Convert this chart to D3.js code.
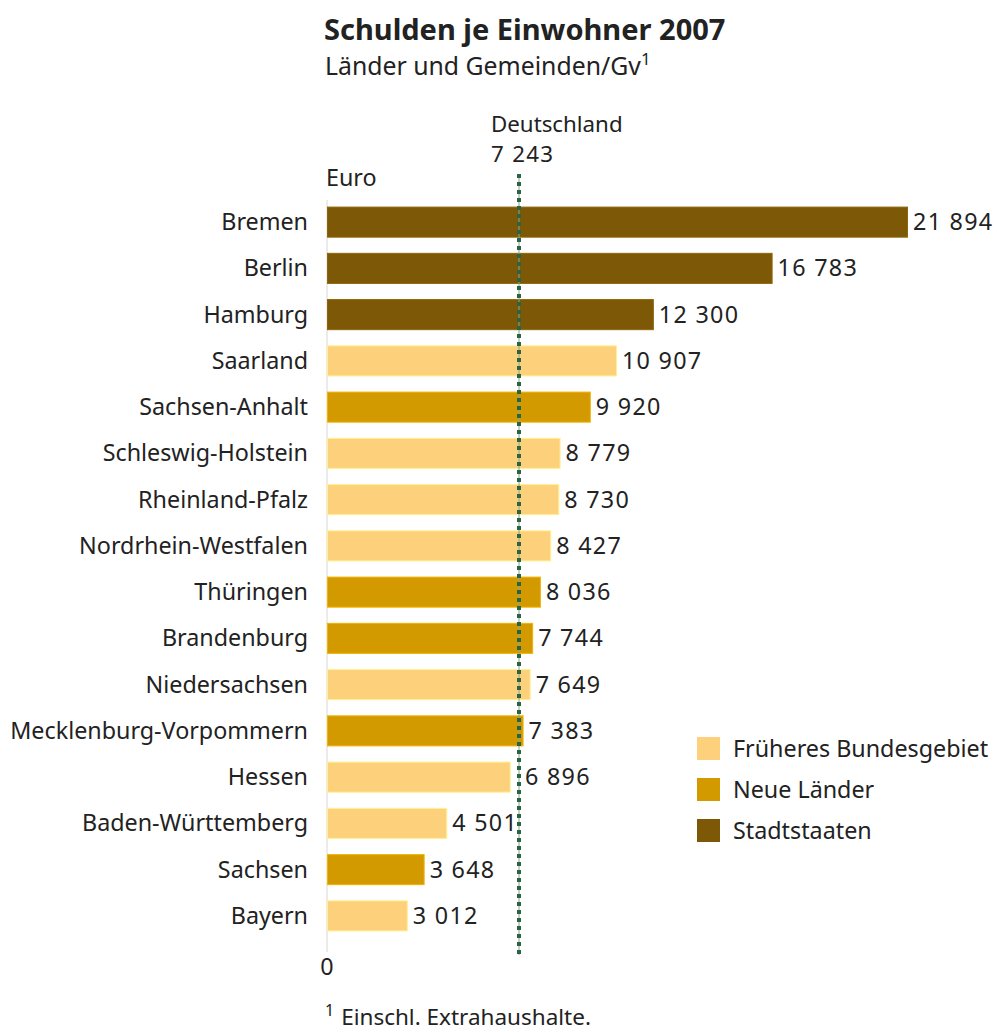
<!DOCTYPE html>
<html lang="de">
<head>
<meta charset="utf-8">
<script src="https://d3js.org/d3.v7.min.js"></script>
<style>
  body { margin: 0; background: #fff; }
  text { font-family: "Noto Sans", sans-serif; fill: #222; }
</style>
</head>
<body>
<div id="chart"></div>
<script>
// data
const laender = ["Bremen", "Berlin", "Hamburg", "Saarland", "Sachsen-Anhalt", "Schleswig-Holstein",
  "Rheinland-Pfalz", "Nordrhein-Westfalen", "Thüringen", "Brandenburg", "Niedersachsen",
  "Mecklenburg-Vorpommern", "Hessen", "Baden-Württemberg", "Sachsen", "Bayern"]
const schulden = [21894, 16783, 12300, 10907, 9920, 8779, 8730, 8427, 8036, 7744, 7649, 7383, 6896, 4501, 3648, 3012]
// 0 = Früheres Bundesgebiet, 1 = Neue Länder, 2 = Stadtstaaten
const gruppe = [2, 2, 2, 0, 1, 0, 0, 0, 1, 1, 0, 1, 0, 0, 1, 0]
const gruppen = ["Früheres Bundesgebiet", "Neue Länder", "Stadtstaaten"]
const deutschland = 7243

const width = 997, height = 1032
const x0 = 327
const fs = "23.3px"
const color = d3.scaleOrdinal().domain([0, 1, 2]).range(["#fdd07c", "#d39a00", "#7d5806"])
const xScale = d3.scaleLinear().domain([0, 21894]).range([x0, 907])
const yScale = d3.scaleBand().domain(laender).range([199, 939]).paddingInner(0.35).paddingOuter(0.175)

const fmt = v => d3.format(",")(v).replace(",", " ")

const svg = d3.select("#chart").append("svg")
  .attr("width", width)
  .attr("height", height)

svg.append("text").attr("x", 324).attr("y", 40)
  .style("font-size", "29px").style("font-weight", "bold")
  .text("Schulden je Einwohner 2007")
const sub = svg.append("text").attr("x", 325).attr("y", 75).style("font-size", "24.8px")
sub.append("tspan").text("Länder und Gemeinden/Gv")
sub.append("tspan").attr("dy", -10).style("font-size", "17px").text("1")

svg.append("text").attr("x", 326).attr("y", 186).style("font-size", fs).text("Euro")

// axis line at 0
svg.append("line")
  .attr("x1", x0).attr("x2", x0).attr("y1", 200).attr("y2", 952)
  .attr("stroke", "#d8d8d8").attr("stroke-width", 1)
svg.append("text").attr("x", x0).attr("y", 975).attr("text-anchor", "middle")
  .style("font-size", fs).text("0")

// bars
svg.selectAll("rect.bar")
  .data(laender)
  .join("rect")
  .attr("class", "bar")
  .attr("x", x0 + 0.5)
  .attr("y", d => yScale(d))
  .attr("width", (d, i) => xScale(schulden[i]) - x0)
  .attr("height", yScale.bandwidth())
  .attr("fill", (d, i) => color(gruppe[i]))
  .attr("stroke", (d, i) => d3.color(color(gruppe[i])).brighter(0.4))
  .attr("stroke-width", 1)

// category labels
svg.selectAll("text.cat")
  .data(laender)
  .join("text")
  .attr("class", "cat")
  .attr("x", 308)
  .attr("y", d => yScale(d) + yScale.bandwidth() / 2 + 8)
  .attr("text-anchor", "end")
  .style("font-size", fs)
  .text(d => d)

const xd = Math.round(xScale(deutschland))

// value labels (pushed past the reference line where they would touch it)
svg.selectAll("text.val")
  .data(laender)
  .join("text")
  .attr("class", "val")
  .attr("x", (d, i) => {
    let x = xScale(schulden[i]) + 6
    if (x > xd - 6 && x < xd + 5) x = xd + 6
    return x
  })
  .attr("y", d => yScale(d) + yScale.bandwidth() / 2 + 8)
  .style("font-size", fs)
  .style("letter-spacing", "1.3px")
  .text((d, i) => fmt(schulden[i]))

// Deutschland reference line
svg.append("line")
  .attr("x1", xd).attr("x2", xd).attr("y1", 174).attr("y2", 955)
  .attr("stroke", "#7fa88c").attr("stroke-width", 1)
svg.append("line")
  .attr("x1", xd).attr("x2", xd).attr("y1", 174).attr("y2", 955)
  .attr("stroke", "#2c6443").attr("stroke-width", 4)
  .attr("stroke-dasharray", "4,4")
svg.append("text").attr("x", 491).attr("y", 132).style("font-size", "22.3px").text("Deutschland")
svg.append("text").attr("x", 491).attr("y", 162).style("font-size", "22.3px")
  .style("letter-spacing", "1.3px").text(fmt(deutschland))

// legend
const leg = svg.selectAll("g.leg")
  .data(gruppen)
  .join("g")
  .attr("class", "leg")
  .attr("transform", (d, i) => "translate(697," + (737 + i * 41) + ")")
leg.append("rect").attr("width", 23).attr("height", 23)
  .attr("fill", (d, i) => color(i))
leg.append("text").attr("x", 36).attr("y", 20).style("font-size", fs).text(d => d)

// footnote
const fn = svg.append("text").attr("x", 325).attr("y", 1025).style("font-size", "22.5px")
fn.append("tspan").attr("dy", -9).style("font-size", "16px").text("1")
fn.append("tspan").attr("dx", 7).attr("dy", 9).text("Einschl. Extrahaushalte.")
</script>
</body>
</html>
